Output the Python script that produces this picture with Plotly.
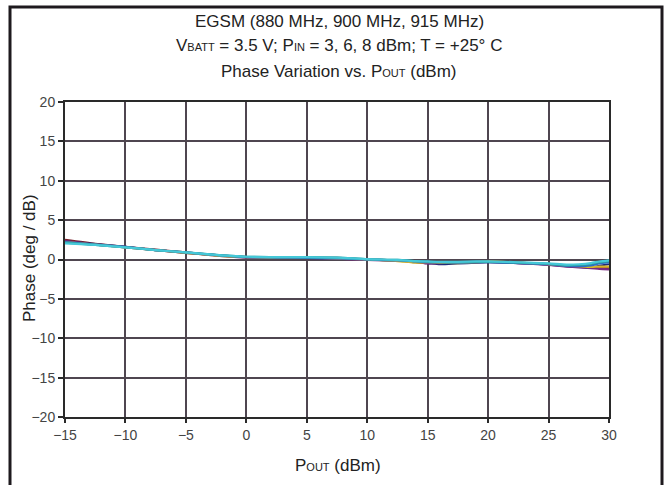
import plotly.graph_objects as go

# ---- data ----
pout = [-15, -12.5, -10, -7.5, -5, -2.5, 0, 2.5, 5, 7.5, 10, 12.5, 14, 15, 16, 17.5, 19, 20, 22.5, 25, 26.5, 27.5, 28.5, 29.2, 30]

phase_red    = [2.5, 2.0, 1.6, 1.25, 0.9, 0.55, 0.3, 0.25, 0.25, 0.2, 0.0, -0.1, -0.3, -0.35, -0.45, -0.4, -0.35, -0.3, -0.45, -0.6, -0.8, -0.9, -1.0, -1.0, -1.1]
phase_navy   = [2.3, 1.95, 1.6, 1.2, 0.85, 0.55, 0.3, 0.2, 0.2, 0.15, 0.0, -0.15, -0.35, -0.45, -0.6, -0.5, -0.4, -0.35, -0.4, -0.65, -0.85, -0.95, -1.05, -0.8, -0.6]
phase_purple = [2.35, 1.9, 1.55, 1.2, 0.85, 0.5, 0.25, 0.2, 0.2, 0.1, -0.05, -0.15, -0.3, -0.5, -0.45, -0.35, -0.3, -0.3, -0.45, -0.7, -0.9, -1.0, -1.1, -1.2, -1.25]
phase_yellow = [2.2, 1.9, 1.55, 1.2, 0.85, 0.5, 0.3, 0.25, 0.25, 0.15, 0.0, -0.2, -0.4, -0.35, -0.4, -0.45, -0.35, -0.25, -0.4, -0.6, -0.75, -0.85, -0.95, -0.9, -0.9]
phase_blue   = [2.2, 1.9, 1.6, 1.2, 0.9, 0.55, 0.3, 0.25, 0.2, 0.15, 0.0, -0.1, -0.25, -0.35, -0.35, -0.4, -0.35, -0.35, -0.45, -0.6, -0.8, -0.85, -0.75, -0.5, -0.35]
phase_teal   = [2.15, 1.85, 1.55, 1.2, 0.9, 0.6, 0.35, 0.3, 0.3, 0.25, 0.05, -0.05, -0.2, -0.3, -0.35, -0.35, -0.3, -0.3, -0.4, -0.55, -0.75, -0.7, -0.55, -0.35, -0.2]
phase_cyan   = [2.05, 1.85, 1.55, 1.2, 0.9, 0.6, 0.35, 0.3, 0.3, 0.25, 0.05, -0.05, -0.2, -0.25, -0.3, -0.3, -0.25, -0.25, -0.35, -0.5, -0.65, -0.6, -0.45, -0.25, -0.1]

series = [
    (phase_red, "#7a1f2a"),
    (phase_navy, "#1c2a78"),
    (phase_purple, "#7a2a80"),
    (phase_yellow, "#d9b52a"),
    (phase_blue, "#2a6fc8"),
    (phase_teal, "#2b9b9b"),
    (phase_cyan, "#45c8d8"),
]

x_ticks = [-15, -10, -5, 0, 5, 10, 15, 20, 25, 30]
x_tick_labels = ["\u221215", "\u221210", "\u22125", "0", "5", "10", "15", "20", "25", "30"]
y_ticks = [-20, -15, -10, -5, 0, 5, 10, 15, 20]
y_tick_labels = ["\u221220", "\u221215", "\u221210", "\u22125", "0", "5", "10", "15", "20"]

FONT = "Liberation Sans Narrow, Arial Narrow, Liberation Sans, sans-serif"

fig = go.Figure()
for vals, col in series:
    fig.add_trace(go.Scatter(x=pout, y=vals, mode="lines",
                             line=dict(color=col, width=2.2, shape="spline", smoothing=0.6),
                             showlegend=False, hoverinfo="skip"))

grid_col = "#4f4650"
fig.update_xaxes(range=[-15, 30], tickvals=x_ticks, ticktext=x_tick_labels,
                 showgrid=True, gridcolor=grid_col, gridwidth=1.6,
                 showline=True, linecolor="#2a2a2a", linewidth=2, mirror=True,
                 ticks="outside", ticklen=4, tickcolor="#2a2a2a", tickwidth=1.5,
                 tickfont=dict(family=FONT, size=14, color="#444"), zeroline=False)
fig.update_yaxes(range=[-20, 20], tickvals=y_ticks, ticktext=y_tick_labels,
                 showgrid=True, gridcolor=grid_col, gridwidth=1.6,
                 showline=True, linecolor="#2a2a2a", linewidth=2, mirror=True,
                 ticks="outside", ticklen=5, tickcolor="#2a2a2a", tickwidth=1.5,
                 tickfont=dict(family=FONT, size=14, color="#444"), zeroline=False)

# plot area in pixels: x 65..609, y 102..417
L, R, T, B = 65, 609, 102, 417
W, H = 666, 485
pw, ph = R - L, B - T

def px(x):
    return (x - L) / pw

def py(y):
    return (B - y) / ph

small = "<span style='font-size:11px'>"
title_lines = [
    "EGSM (880 MHz, 900 MHz, 915 MHz)",
    "V" + small + "BATT</span> = 3.5 V; P" + small + "IN</span> = 3, 6, 8 dBm; T = +25\u00b0 C",
    "Phase Variation vs. P" + small + "OUT</span> (dBm)",
]
title_y = [21, 46, 72]
annotations = []
for t, yy in zip(title_lines, title_y):
    annotations.append(dict(text=t, x=px(339), y=py(yy), xref="paper", yref="paper",
                            showarrow=False, xanchor="center", yanchor="middle",
                            font=dict(family=FONT, size=17, color="#222")))
annotations.append(dict(text="P" + small + "OUT</span> (dBm)", x=px(338), y=py(466),
                        xref="paper", yref="paper", showarrow=False,
                        xanchor="center", yanchor="middle",
                        font=dict(family=FONT, size=17, color="#222")))
annotations.append(dict(text="Phase (deg / dB)", x=px(29), y=py(258),
                        xref="paper", yref="paper", showarrow=False, textangle=-90,
                        xanchor="center", yanchor="middle",
                        font=dict(family=FONT, size=17, color="#222")))

shapes = [dict(type="rect", xref="paper", yref="paper",
               x0=px(10), x1=px(662), y0=py(495), y1=py(7),
               line=dict(color="#1e1a1e", width=3), fillcolor="rgba(0,0,0,0)", layer="above")]

fig.update_layout(width=W, height=H, margin=dict(l=L, r=W - R, t=T, b=H - B),
                  paper_bgcolor="white", plot_bgcolor="white",
                  annotations=annotations, shapes=shapes)

fig.write_html("out.html")
